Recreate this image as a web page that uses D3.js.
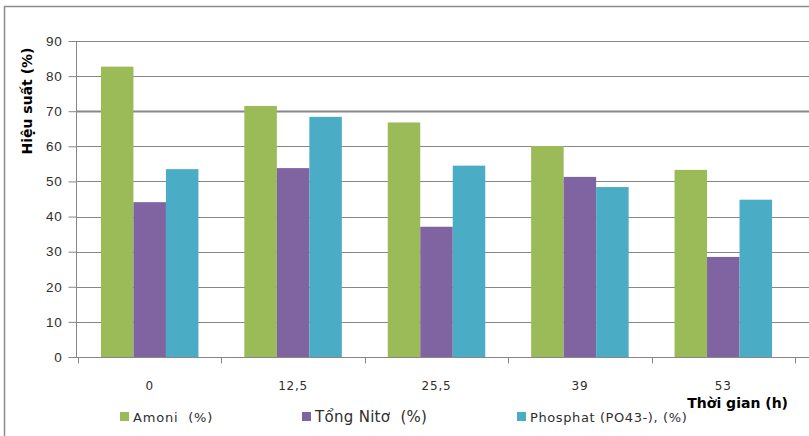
<!DOCTYPE html>
<html>
<head>
<meta charset="utf-8">
<script src="https://cdn.jsdelivr.net/npm/d3@7"></script>
<style>
  body { margin: 0; background: #fff; }
  svg { display: block; font-family: "DejaVu Sans", sans-serif; }
  text { white-space: pre; }
</style>
</head>
<body>
<svg id="chart" width="809" height="436"></svg>
<script>
// thoi gian (h) and hieu suat (%)
var categories = ["0", "12,5", "25,5", "39", "53"];
var seriesNames = ["Amoni  (%)", "Tổng Nitơ  (%)", "Phosphat (PO43-), (%)"];
var amoni = [82.7, 71.5, 66.8, 60.1, 53.3];
var tongNito = [44.1, 53.8, 37.1, 51.3, 28.5];
var phosphat = [53.5, 68.4, 54.5, 48.4, 44.8];
var yTicks = [0, 10, 20, 30, 40, 50, 60, 70, 80, 90];
var colors = ["#9bbb59", "#8064a2", "#4bacc6"];

var svg = d3.select("#chart");
var series = [amoni, tongNito, phosphat];

var mLeft = 76, mRight = 795, mTop = 41, mBottom = 357;

var x = d3.scaleBand().domain(categories).range([mLeft + 2, mRight]).paddingInner(0.32).paddingOuter(0.16);
var xs = d3.scaleBand().domain(d3.range(3)).range([0, x.bandwidth()]);
var y = d3.scaleLinear().domain([0, 90]).range([mBottom, mTop]);

// outer frame
svg.append("path")
  .attr("d", "M4.5,436 V6.5 H809")
  .attr("fill", "none").attr("stroke", "#8c8c8c").attr("stroke-width", 1.5);

// gridlines
svg.append("g").selectAll("line").data(yTicks.filter(d => d > 0)).enter().append("line")
  .attr("x1", mLeft).attr("x2", 809)
  .attr("y1", d => Math.round(y(d)) + 0.5).attr("y2", d => Math.round(y(d)) + 0.5)
  .attr("stroke", "#878787")
  .attr("stroke-width", d => d === 70 ? 2 : 1);

// bars
var groups = svg.append("g").selectAll("g").data(categories).enter().append("g")
  .attr("transform", d => "translate(" + x(d) + ",0)");
groups.selectAll("rect").data((d, i) => series.map((s, k) => ({ k: k, v: s[i] }))).enter().append("rect")
  .attr("x", d => xs(d.k))
  .attr("width", xs.bandwidth())
  .attr("y", d => y(d.v))
  .attr("height", d => y(0) - y(d.v))
  .attr("fill", d => colors[d.k]);

// y axis
var yAxis = svg.append("g").attr("transform", "translate(" + (mLeft + 0.5) + ",0)")
  .call(d3.axisLeft(y).tickValues(yTicks).tickSize(8).tickPadding(6));
yAxis.select(".domain").attr("stroke", "#878787").attr("d", "M0," + mTop + "V" + mBottom);
yAxis.selectAll(".tick line").attr("stroke", "#878787");
yAxis.selectAll("text").attr("fill", "#2e2e2e").style("font-size", "13.5px").style("letter-spacing", "0.8px");

// x axis
var edges = categories.map(c => x(c) - x.step() * x.paddingInner() / 2).concat([mRight]);
var xAxis = svg.append("g").attr("transform", "translate(0," + (mBottom + 0.5) + ")");
xAxis.append("line").attr("x1", mLeft).attr("x2", 809).attr("stroke", "#878787");
xAxis.selectAll(".tk").data(edges).enter().append("line")
  .attr("x1", d => Math.round(d) + 0.5).attr("x2", d => Math.round(d) + 0.5)
  .attr("y1", 0).attr("y2", 6).attr("stroke", "#878787");
xAxis.selectAll("text").data(categories).enter().append("text")
  .attr("x", d => x(d) + x.bandwidth() / 2)
  .attr("y", 32)
  .attr("text-anchor", "middle")
  .attr("fill", "#2e2e2e")
  .style("font-size", "12px").style("letter-spacing", "0.8px")
  .text(d => d);

// axis titles
svg.append("text")
  .attr("transform", "translate(32,101) rotate(-90)")
  .attr("text-anchor", "middle")
  .style("font-size", "14px").style("font-weight", "bold")
  .text("Hiệu suất (%)");
svg.append("text")
  .attr("x", 788).attr("y", 408)
  .attr("text-anchor", "end")
  .style("font-size", "14px").style("font-weight", "bold")
  .text("Thời gian (h)");

// legend
var legendX = [120, 302, 517];
var legendSize = ["13px", "15px", "13px"];
var legendSpacing = ["0.8px", "0.3px", "0.6px"];
var legend = svg.append("g").selectAll("g").data(seriesNames).enter().append("g")
  .attr("transform", (d, i) => "translate(" + legendX[i] + ",412)");
legend.append("rect").attr("width", 9).attr("height", 9).attr("fill", (d, i) => colors[i]);
legend.append("text")
  .attr("x", 13).attr("y", 9.5)
  .attr("fill", "#2e2e2e")
  .style("font-size", (d, i) => legendSize[i])
  .style("letter-spacing", (d, i) => legendSpacing[i])
  .text(d => d);
</script>
</body>
</html>
